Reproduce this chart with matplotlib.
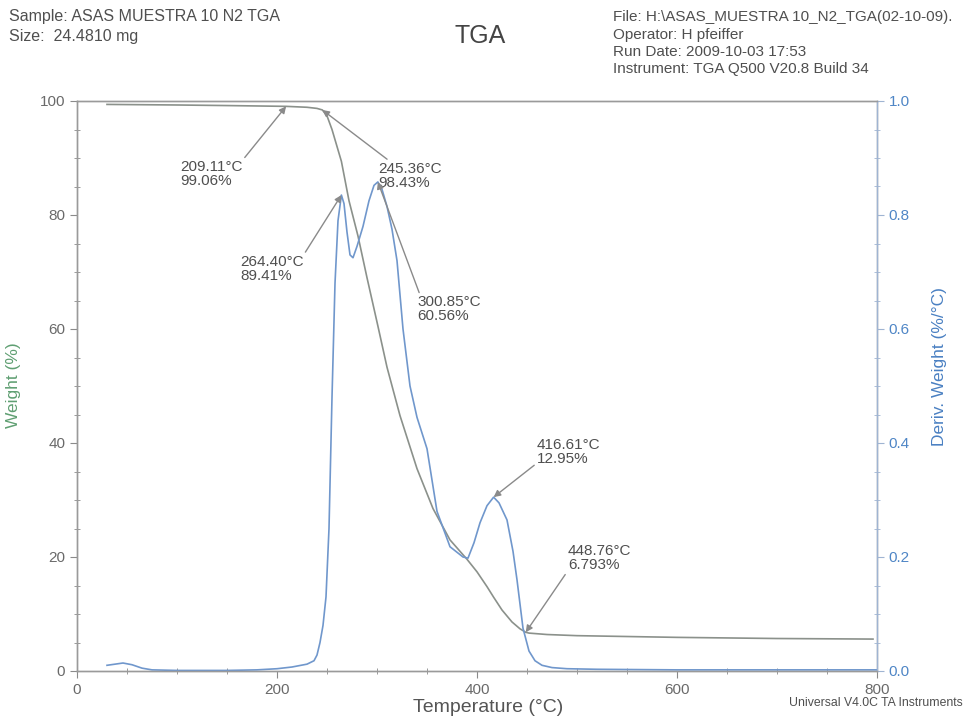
import matplotlib
matplotlib.use('Agg')
import matplotlib.pyplot as plt
import numpy as np

plt.rcParams['font.family'] = ['Liberation Sans', 'DejaVu Sans']

# weight trace (%), read at selected temperatures (°C)
temp_w = [30, 100, 150, 209.11, 230, 240, 245.36, 250, 255, 264.4, 272, 281, 290,
          300.85, 310, 323, 340, 356, 373, 390, 400, 410, 416.61, 425, 435, 443,
          448.76, 452, 470, 500, 600, 700, 796]
weight = [99.4, 99.3, 99.2, 99.06, 98.9, 98.7, 98.43, 97.4, 95.0, 89.41, 82.5, 76.3, 69.0,
          60.56, 53.3, 44.8, 35.5, 28.5, 23.0, 19.6, 17.4, 14.8, 12.95, 10.7, 8.6, 7.4,
          6.793, 6.65, 6.4, 6.2, 5.9, 5.7, 5.6]

# derivative trace (%/°C)
temp_d = [30, 38, 46, 55, 65, 75, 100, 150, 180, 200, 215, 230, 237, 240, 243, 246,
          249, 252, 255, 258, 261, 264.4, 267, 270, 273, 276, 280, 286, 292, 297,
          300.85, 305, 310, 315, 320, 326, 333, 340, 350, 360, 373, 386, 391, 397,
          403, 410, 416.61, 422, 430, 436, 440, 446, 452, 458, 465, 475, 490, 520,
          600, 700, 800]
deriv = [0.010, 0.012, 0.014, 0.011, 0.005, 0.002, 0.001, 0.001, 0.002, 0.004, 0.007,
         0.012, 0.018, 0.028, 0.050, 0.080, 0.130, 0.250, 0.480, 0.680, 0.790, 0.835,
         0.820, 0.770, 0.730, 0.725, 0.745, 0.780, 0.825, 0.852, 0.858, 0.845, 0.815,
         0.775, 0.720, 0.600, 0.500, 0.445, 0.390, 0.280, 0.218, 0.200, 0.198, 0.225,
         0.260, 0.290, 0.305, 0.295, 0.265, 0.210, 0.160, 0.075, 0.035, 0.018, 0.010,
         0.006, 0.004, 0.003, 0.002, 0.002, 0.002]

# labelled points: (temperature, weight %, which curve the arrow points at)
marks_t = [209.11, 245.36, 264.40, 300.85, 416.61, 448.76]
marks_w = [99.06, 98.43, 89.41, 60.56, 12.95, 6.793]
marks_on = ['w', 'w', 'd', 'd', 'd', 'w']
# label anchor (upper left corner, in weight-axis units) and arrow start on the label
label_xy = [(103, 89.6), (301, 89.3), (163, 73.0), (340, 65.9), (460, 40.9), (491, 22.3)]
label_rel = [(1, 1), (0.2, 1), (1, 1), (0.05, 1), (0, 0.1), (0, 0.05)]

gray = '#8b918b'
blue = '#7097cc'
txt = '#4f4f4f'

fig = plt.figure(figsize=(9.66, 7.21), dpi=100)
ax1 = fig.add_axes([77/966, 50/721, 800/966, 570/721])
ax2 = ax1.twinx()

ax1.plot(temp_w, weight, color=gray, lw=1.2)
ax2.plot(temp_d, deriv, color=blue, lw=1.2)

ax1.set_xlim(0, 800)
ax1.set_ylim(0, 100)
ax2.set_ylim(0, 1.0)

ax1.set_xticks([0, 200, 400, 600, 800])
ax1.set_xticks(np.arange(0, 801, 50), minor=True)
ax1.set_yticks([0, 20, 40, 60, 80, 100])
ax1.set_yticks(np.arange(0, 101, 5), minor=True)
ax2.set_yticks([0.0, 0.2, 0.4, 0.6, 0.8, 1.0])
ax2.set_yticks(np.arange(0, 1.01, 0.05), minor=True)
ax2.set_yticklabels(['0.0', '0.2', '0.4', '0.6', '0.8', '1.0'])

for ax in (ax1, ax2):
    for s in ax.spines.values():
        s.set_color('#9a9a9a')
        s.set_linewidth(1.0)
ax2.spines['right'].set_color('#9fb4d2')

ax1.tick_params(axis='both', which='major', length=5, direction='out', color='#8a8a8a',
                labelsize=11, labelcolor='#6a6a6a')
ax1.tick_params(axis='both', which='minor', length=4, direction='inout', color='#8a8a8a')
ax1.tick_params(axis='x', top=False)
ax2.tick_params(axis='y', which='major', length=5, direction='out', color='#9fb4d2',
                labelsize=11, labelcolor='#4f86c6')
ax2.tick_params(axis='y', which='minor', length=4, direction='inout', color='#9fb4d2')

ax1.set_xlabel('Temperature (°C)', fontsize=14, color='#555555')
ax1.xaxis.set_label_coords(411/800, -28/570)
ax1.set_ylabel('Weight (%)', fontsize=12.5, color='#5f9f72')
ax1.yaxis.set_label_coords(-56/800, 286/570)
ax2.set_ylabel('Deriv. Weight (%/°C)', fontsize=12.5, color='#4a80c2')
ax2.yaxis.set_label_coords(855/800, 304/570)

# peak and onset labels
peak_d = dict(zip(temp_d, deriv))
for t, w, on, xy_t, rel in zip(marks_t, marks_w, marks_on, label_xy, label_rel):
    text = f'{t:.2f}°C\n{w}%'
    if on == 'w':
        ax_tgt, xy = ax1, (t, w)
    else:
        ax_tgt, xy = ax2, (t, peak_d[t])
    ax_tgt.annotate(text, xy=xy, xytext=xy_t, textcoords=ax1.transData,
                    ha='left', va='top', fontsize=11, color=txt, linespacing=1.0,
                    arrowprops=dict(arrowstyle='-|>', color='#8a8a8a', lw=1.0,
                                    mutation_scale=10, shrinkA=0, shrinkB=0,
                                    relpos=rel))

# header block
fig.text(9/966, 1 - 17/721, 'Sample: ASAS MUESTRA 10 N2 TGA', fontsize=11.5, color=txt, va='center')
fig.text(9/966, 1 - 36/721, 'Size:  24.4810 mg', fontsize=11.5, color=txt, va='center')
fig.text(480/966, 1 - 36/721, 'TGA', fontsize=18, color='#444444', ha='center', va='center')
right_lines = ['File: H:\\ASAS_MUESTRA 10_N2_TGA(02-10-09).', 'Operator: H pfeiffer',
               'Run Date: 2009-10-03 17:53', 'Instrument: TGA Q500 V20.8 Build 34']
for i, line in enumerate(right_lines):
    fig.text(613/966, 1 - (17 + 17.5*i)/721, line, fontsize=11, color=txt, va='center')
fig.text(963/966, 1 - 703/721, 'Universal V4.0C TA Instruments', fontsize=8.8,
         color=txt, ha='right', va='center')

fig.savefig('out.png', dpi=100)
